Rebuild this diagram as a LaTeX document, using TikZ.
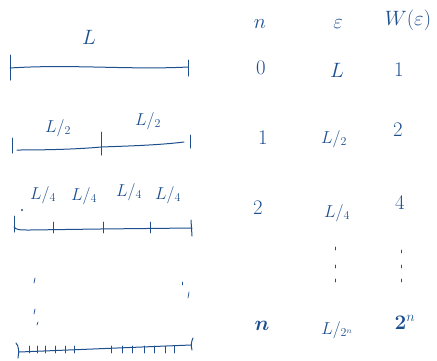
\documentclass[tikz,border=0pt]{standalone}
\usepackage{fontspec}
\usepackage{amsmath}
\begin{document}
\begin{tikzpicture}[x=1pt,y=-1pt,
  ink/.style={draw=inkblue,line width=1pt,line cap=round},
  thin/.style={draw=inkblue,line width=0.7pt,line cap=round},
  lab/.style={text=inkblue,font=\fontsize{17}{20}\selectfont,inner sep=0pt},
  big/.style={text=inkblue,font=\fontsize{20}{24}\selectfont,inner sep=0pt}]
\definecolor{inkblue}{HTML}{1D4F8E}
\useasboundingbox (0,0) rectangle (437,360);
% row 0
\coordinate (a0) at (10,68); \coordinate (b0) at (188,67);
\draw[ink] (a0) .. controls (70,64) and (130,70) .. (b0);
\draw[ink] (10,55) -- (10,80);
\draw[ink] (188,60) -- (188,76);
\node[big] (L0) at (89,37) {$L$};
% row 1
\coordinate (a1) at (17,150); \coordinate (m1) at (101,147); \coordinate (b1) at (184,142);
\draw[ink] (a1) .. controls (50,150) and (80,149) .. (m1) .. controls (130,146) and (160,145) .. (b1);
\draw[ink] (12,138) -- (12,153);
\draw[ink] (101,132) -- (101,155);
\draw[ink] (190,135) -- (190,148);
\node[lab] (h1) at (58,128) {$L/_{2}$};
\node[lab] (h2) at (148,121) {$L/_{2}$};
% row 2
\coordinate (a2) at (14,227); \coordinate (b2) at (192,228);
\draw[ink] (a2) .. controls (16,230) and (20,230) .. (30,230) -- (100,229) -- (b2);
\draw[ink] (14,216) -- (14,232);
\foreach \x in {53,103,150} \draw[thin] (\x,222) -- (\x,233);
\draw[ink] (191,220) -- (192,236);
\fill[inkblue] (22,210) circle (1.1);
\node[lab] (q1) at (43,195) {$L/_{4}$};
\node[lab] (q2) at (84,196) {$L/_{4}$};
\node[lab] (q3) at (129,192) {$L/_{4}$};
\node[lab] (q4) at (168,195) {$L/_{4}$};
% dots between
\foreach \y in {278,309} \draw[thin] (35,\y) -- (34,\y+5);
\draw[thin] (38,322) -- (37,325);
\draw[thin] (182,282) -- (182,285);
\draw[thin] (189,292) -- (188,298);
% bottom row
\coordinate (a3) at (19,352); \coordinate (b3) at (191,345);
\draw[ink] (a3) -- (b3);
\draw[ink] (16,343) .. controls (19,346) and (19,352) .. (18,358);
\draw[ink] (193,338) .. controls (191,342) and (191,346) .. (192,350);
\foreach \x in {29,37,45,55,65,74,111,122,132,144,154,165,174}
  \draw[thin] (\x,346) -- (\x,353);
% table
\node[big] (hn) at (260,24) {$n$};
\node[big] (he) at (338,24) {$\varepsilon$};
\node[big] (hw) at (408,20) {$W(\varepsilon)$};
\node[big] (n0) at (261,68) {$0$};
\node[big] (e0) at (337,70) {$L$};
\node[big] (w0) at (399,70) {$1$};
\node[big] (n1) at (263,138) {$1$};
\node[lab] (e1) at (334,139) {$L/_{2}$};
\node[big] (w1) at (398,130) {$2$};
\node[big] (n2) at (258,208) {$2$};
\node[lab] (e2) at (337,213) {$L/_{4}$};
\node[big] (w2) at (400,203) {$4$};
\foreach \y in {247,265,279} \draw[thin] (335,\y) -- (335,\y+3);
\foreach \y in {250,265,279} \draw[thin] (401,\y) -- (401,\y+3);
\node[big] (nn) at (262,326) {$\boldsymbol{n}$};
\node[lab] (en) at (337,330) {$L/_{2^n}$};
\node[big] (wn) at (405,322) {$\boldsymbol{2}^n$};
\end{tikzpicture}
\end{document}
